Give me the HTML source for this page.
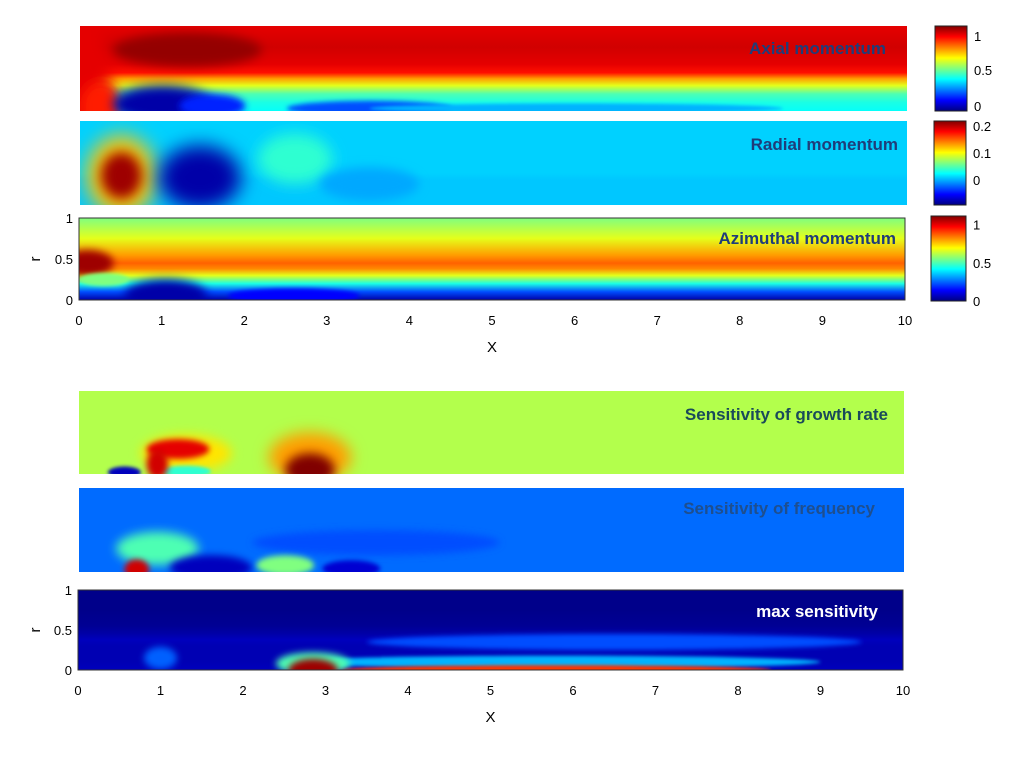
<!DOCTYPE html>
<html><head><meta charset="utf-8"><style>
body{margin:0;background:#fff;}
svg text{font-family:"Liberation Sans",sans-serif;}
</style></head><body>
<svg id="chart" width="1024" height="768" viewBox="0 0 1024 768" xmlns="http://www.w3.org/2000/svg">
<defs></defs>
<g id="layer"></g>
</svg>
<script>
// ---- data (values normalised 0..1 on jet colormap); blobs drawn in order (halos first) ----
const panelTitles = ["Axial momentum","Radial momentum","Azimuthal momentum","Sensitivity of growth rate","Sensitivity of frequency","max sensitivity"];
const profR = [1,0.75,0.55,0.45,0.38,0.3,0.2,0.1,0];
const prof1 = [0.9,0.92,0.9,0.86,0.72,0.6,0.45,0.4,0.38];
const prof2 = [0.33,0.33,0.33,0.33,0.33,0.32,0.32,0.32,0.32];
const prof3 = [0.5,0.6,0.72,0.78,0.74,0.6,0.4,0.2,0.04];
const prof4 = [0.55,0.55,0.55,0.55,0.55,0.55,0.55,0.55,0.55];
const prof5 = [0.23,0.23,0.23,0.23,0.23,0.23,0.23,0.23,0.23];
const prof6 = [0.01,0.01,0.02,0.04,0.06,0.05,0.05,0.05,0.06];
// blobs: x centre, r centre, x half-width, r half-height, value
const b1x=[0.05,1.3,0.25,1.0,1.6,3.5,6];
const b1r=[0.3,0.72,0.05,0.08,0.06,0.03,0.03];
const b1w=[0.3,0.9,0.25,0.6,0.4,1.0,2.5];
const b1h=[0.9,0.2,0.3,0.22,0.14,0.09,0.06];
const b1v=[0.9,0.98,0.85,0.04,0.16,0.2,0.3];
const b2x=[0.5,0.5,1.45,2.6,3.5];
const b2r=[0.35,0.35,0.33,0.55,0.25];
const b2w=[0.42,0.25,0.5,0.45,0.6];
const b2h=[0.48,0.28,0.38,0.3,0.2];
const b2v=[0.68,0.97,0.04,0.42,0.29];
const b3x=[0.1,1.05,0.3,2.6];
const b3r=[0.45,0.05,0.25,0.05];
const b3w=[0.32,0.5,0.3,0.8];
const b3h=[0.16,0.2,0.08,0.09];
const b3v=[0.97,0.04,0.5,0.13];
const b4x=[2.8,1.3,1.2,2.8,0.55,1.3,0.95];
const b4r=[0.2,0.25,0.3,0.05,0.02,0.03,0.12];
const b4w=[0.5,0.55,0.38,0.3,0.2,0.3,0.13];
const b4h=[0.3,0.22,0.12,0.2,0.07,0.07,0.18];
const b4v=[0.72,0.65,0.9,1.0,0.06,0.42,0.92];
const b5x=[3.6,0.95,0.7,1.6,2.5,3.3];
const b5r=[0.35,0.28,0.03,0.05,0.08,0.04];
const b5w=[1.5,0.5,0.15,0.5,0.35,0.35];
const b5h=[0.15,0.2,0.12,0.15,0.12,0.1];
const b5v=[0.2,0.45,0.92,0.06,0.5,0.08];
const b6x=[6.5,5.8,1.0,2.85,5.8,2.85];
const b6r=[0.35,0.1,0.15,0.08,0.0,0.0];
const b6w=[3,3.2,0.2,0.45,2.6,0.3];
const b6h=[0.1,0.08,0.14,0.14,0.06,0.14];
const b6v=[0.2,0.3,0.22,0.45,0.82,0.97];
const xTicks=[0,1,2,3,4,5,6,7,8,9,10];
const rTicks=[0,0.5,1];
const cb1Ticks=["1","0.5","0"], cb2Ticks=["0.2","0.1","0"], cb3Ticks=["1","0.5","0"];

function jet(v){v=Math.max(0,Math.min(1,v));
 const f=t=>Math.round(255*Math.max(0,Math.min(1,t)));
 const r=f(Math.min(4*v-1.5,-4*v+4.5)),g=f(Math.min(4*v-0.5,-4*v+3.5)),b=f(Math.min(4*v+0.5,-4*v+2.5));
 return `rgb(${r},${g},${b})`;}
const NS="http://www.w3.org/2000/svg";
const layer=document.getElementById('layer');
const defs=document.querySelector('defs');
function mk(tag,attrs,parent){const e=document.createElementNS(NS,tag);for(const k in attrs)e.setAttribute(k,attrs[k]);(parent||layer).appendChild(e);return e;}

const panels=[
 {x:80,y:26,w:827,h:85,p:prof1,b:[b1x,b1r,b1w,b1h,b1v],tc:"#1f3d7a",tx:886,ty:54,axis:false},
 {x:80,y:121,w:827,h:84,p:prof2,b:[b2x,b2r,b2w,b2h,b2v],tc:"#1f3d7a",tx:898,ty:150,axis:false},
 {x:79,y:218,w:826,h:82,p:prof3,b:[b3x,b3r,b3w,b3h,b3v],tc:"#1f3d7a",tx:896,ty:244,axis:true},
 {x:79,y:391,w:825,h:83,p:prof4,b:[b4x,b4r,b4w,b4h,b4v],tc:"#1a4a5a",tx:888,ty:420,axis:false},
 {x:79,y:488,w:825,h:84,p:prof5,b:[b5x,b5r,b5w,b5h,b5v],tc:"#1e4f8f",tx:875,ty:514,axis:false},
 {x:78,y:590,w:825,h:80,p:prof6,b:[b6x,b6r,b6w,b6h,b6v],tc:"#ffffff",tx:878,ty:617,axis:true}
];
let fid=0;
panels.forEach((P,i)=>{
 const xs=v=>P.x+v/10*P.w, ys=r=>P.y+P.h-r*P.h;
 const g=mk('g',{});
 
 
 const cp=mk('clipPath',{id:'cp'+i},defs);mk('rect',{x:P.x,y:P.y,width:P.w,height:P.h},cp);
 const lg=mk('linearGradient',{id:'lg'+i,x1:0,y1:0,x2:0,y2:1},defs);
 profR.forEach((r,k)=>mk('stop',{offset:(1-r),'stop-color':jet(P.p[k])},lg));
 const inner=mk('g',{'clip-path':`url(#cp${i})`},g);
 const bg=mk('rect',{x:P.x,y:P.y,width:P.w,height:P.h,fill:`url(#lg${i})`},inner);
 
 
 const [bx,br,bw,bh,bv]=P.b;
 bx.forEach((_,k)=>{
  const rx=bw[k]/10*P.w, ry=bh[k]*P.h;
  const sd=Math.max(1.5,Math.min(rx,ry)*0.3);
  const fl=mk('filter',{id:'f'+(fid),x:'-60%',y:'-60%',width:'220%',height:'220%'},defs);
  mk('feGaussianBlur',{stdDeviation:sd},fl);
  const e=mk('ellipse',{cx:xs(bx[k]),cy:ys(br[k]),rx:rx,ry:ry,fill:jet(bv[k]),filter:`url(#f${fid})`},inner);
  fid++;
  
  
 });
 if(P.axis) mk('rect',{x:P.x,y:P.y,width:P.w,height:P.h,fill:'none',stroke:'#333','stroke-width':1},g);
 const t=mk('text',{x:P.tx,y:P.ty,'text-anchor':'end','font-size':17,'font-weight':'bold',fill:P.tc},g);
 t.textContent=panelTitles[i];
 
 
 if(P.axis){
  const ax=mk('g',{},g);
  
  
  xTicks.forEach(v=>{const tt=mk('text',{x:xs(v),y:P.y+P.h+25,'text-anchor':'middle','font-size':13,fill:'#000'},ax);tt.textContent=v;});
  const ay=mk('g',{},g);
  
  
  rTicks.forEach(v=>{const tt=mk('text',{x:P.x-6,y:ys(v)+5,'text-anchor':'end','font-size':13,fill:'#000'},ay);tt.textContent=v;});
  const xl=mk('text',{x:P.x+P.w/2,y:P.y+P.h+52,'text-anchor':'middle','font-size':15,fill:'#000'},g);xl.textContent='X';
  
  
  const yl=mk('text',{x:0,y:0,'text-anchor':'middle','font-size':15,fill:'#000',transform:`translate(40,${ys(0.5)}) rotate(-90)`},g);yl.textContent='r';
  
  
 }
});
// colorbars
const cbs=[{x:935,y:26,w:32,h:85,t:cb1Ticks,p:[0.12,0.52,0.94]},{x:934,y:121,w:32,h:84,t:cb2Ticks,p:[0.06,0.38,0.7]},{x:931,y:216,w:35,h:85,t:cb3Ticks,p:[0.1,0.55,1.0]}];
const cg=mk('linearGradient',{id:'jetg',x1:0,y1:1,x2:0,y2:0},defs);
[0,0.125,0.375,0.625,0.875,1].forEach(v=>mk('stop',{offset:v,'stop-color':jet(v)},cg));
cbs.forEach((C,i)=>{
 const g=mk('g',{});
 
 
 mk('rect',{x:C.x,y:C.y,width:C.w,height:C.h,fill:'url(#jetg)',stroke:'#222','stroke-width':1},g);
 C.t.forEach((s,k)=>{const tt=mk('text',{x:C.x+C.w+7,y:C.y+C.p[k]*C.h+5,'font-size':13,fill:'#000'},g);tt.textContent=s;});
});
</script>
</body></html>
